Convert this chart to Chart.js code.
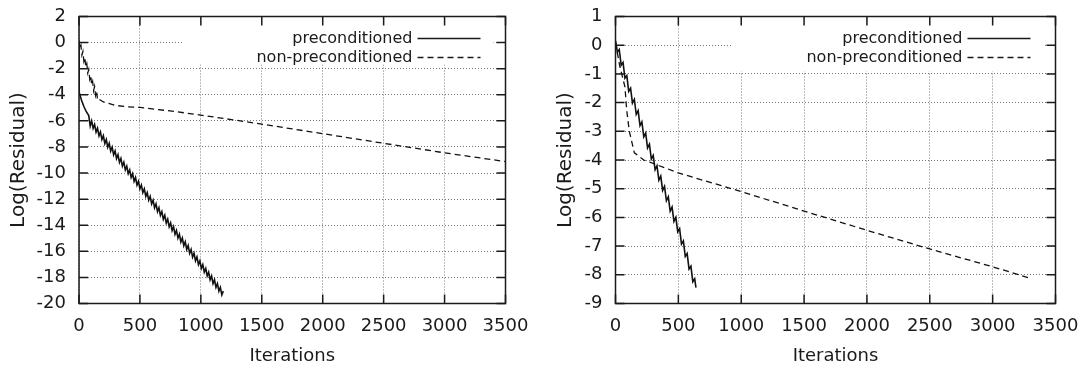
<!DOCTYPE html>
<html>
<head>
<meta charset="utf-8">
<script src="https://cdn.jsdelivr.net/npm/chart.js@4/dist/chart.umd.min.js"></script>
<style>
    html, body { margin:0; padding:0; background:#fff; }
    .panel { position:absolute; top:0; height:367px; }
    #leftPanel { left:0; width:540px; }
    #rightPanel { left:540px; width:541px; }
</style>
</head>
<body>
<div class="panel" id="leftPanel"><canvas id="leftChart"></canvas></div>
<div class="panel" id="rightPanel"><canvas id="rightChart"></canvas></div>
<script>
/* DATA  [iteration, log residual] */
const seriesNames = ["preconditioned", "non-preconditioned"];

const leftPrec = [
    [0,0.1],[1,-3.8],[20,-4.4],[40,-4.9],[60,-5.3],[80,-5.6],[92,-6.4],
    [104,-6.0],[116,-6.57],[128,-6.27],[140,-6.86],[152,-6.56],[164,-7.15],[176,-6.85],[188,-7.44],
    [200,-7.14],[212,-7.73],[224,-7.43],[236,-8.02],[248,-7.72],[260,-8.31],[272,-8.01],[284,-8.60],
    [296,-8.30],[308,-8.89],[320,-8.59],[332,-9.18],[344,-8.88],[356,-9.47],[368,-9.17],[380,-9.76],
    [392,-9.47],[404,-10.05],[416,-9.76],[428,-10.34],[440,-10.05],[452,-10.63],[464,-10.34],[476,-10.92],
    [488,-10.63],[500,-11.21],[512,-10.92],[524,-11.50],[536,-11.21],[548,-11.79],[560,-11.50],[572,-12.08],
    [584,-11.79],[596,-12.37],[608,-12.08],[620,-12.66],[632,-12.37],[644,-12.95],[656,-12.66],[668,-13.24],
    [680,-12.95],[692,-13.54],[704,-13.24],[716,-13.83],[728,-13.53],[740,-14.12],[752,-13.82],[764,-14.41],
    [776,-14.11],[788,-14.70],[800,-14.40],[812,-14.99],[824,-14.69],[836,-15.28],[848,-14.98],[860,-15.57],
    [872,-15.27],[884,-15.86],[896,-15.56],[908,-16.15],[920,-15.85],[932,-16.44],[944,-16.14],[956,-16.73],
    [968,-16.43],[980,-17.02],[992,-16.73],[1004,-17.31],[1016,-17.02],[1028,-17.60],[1040,-17.31],[1052,-17.89],
    [1064,-17.60],[1076,-18.18],[1088,-17.89],[1100,-18.47],[1112,-18.18],[1124,-18.76],[1136,-18.47],[1148,-19.05],
    [1160,-18.76],[1172,-19.34],[1184,-19.05]
];

const leftNonPrec = [
    [0,0.15],[8,-0.48],[16,-0.22],[24,-0.95],[32,-0.68],[40,-1.42],[48,-1.15],[56,-1.89],
    [64,-1.62],[72,-2.34],[80,-2.07],[88,-2.80],[96,-2.52],[104,-3.25],[112,-2.98],[120,-3.69],
    [128,-3.36],[136,-4.04],[144,-3.71],[152,-4.39],[160,-4.31],
    [200,-4.55],[250,-4.68],[300,-4.82],[400,-4.92],[500,-4.97],[600,-5.08],[800,-5.3],
    [1000,-5.56],[1250,-5.9],[1500,-6.25],[2000,-6.98],[2500,-7.72],[3000,-8.45],[3500,-9.12]
];

const rightPrec = [
    [0,0.15],[15,-0.24],[30,-0.15],[45,-0.70],[60,-0.60],[75,-1.15],[90,-1.06],[105,-1.61],
    [120,-1.50],[135,-2.02],[150,-1.89],[165,-2.41],[180,-2.28],[195,-2.80],[210,-2.67],[225,-3.19],
    [240,-3.06],[255,-3.58],[270,-3.45],[285,-3.97],[300,-3.84],[315,-4.34],[330,-4.20],[345,-4.70],
    [360,-4.56],[375,-5.06],[390,-4.92],[405,-5.42],[420,-5.28],[435,-5.78],[450,-5.64],[465,-6.14],
    [480,-6.00],[495,-6.50],[510,-6.39],[525,-6.93],[540,-6.82],[555,-7.36],[570,-7.26],[585,-7.80],
    [600,-7.70],[615,-8.24],[630,-8.14],[640,-8.45]
];

const rightNonPrec = [
    [0,0.1],[35,-0.75],[75,-1.45],[90,-2.3],[110,-3.0],[150,-3.75],[225,-4.0],[300,-4.12],
    [500,-4.45],[1000,-5.1],[1500,-5.78],[2000,-6.45],[2500,-7.1],[3000,-7.72],[3300,-8.12]
];

const iterRange = [0, 3500, 500];
const leftLogRange = [-20, 2, 2];
const rightLogRange = [-9, 1, 1];

Chart.defaults.font.family = "'DejaVu Sans', sans-serif";
Chart.defaults.color = "#1a1a1a";

/* FRAME, INWARD TICKS, KEY */
const gnuFrame = {
    id: "gnuFrame",
    beforeDatasetsDraw(chart, args, o) {
        let a = chart.chartArea, ctx = chart.ctx;
        ctx.save();
        ctx.fillStyle = "#fff";
        ctx.fillRect(a.left + o.keyLeft, a.top + 1, a.right - 12 - a.left - o.keyLeft, o.keyBottom);
        ctx.restore();
    },
    afterDraw(chart, args, o) {
        let a = chart.chartArea, ctx = chart.ctx;
        let xs = chart.scales.x, ys = chart.scales.y;
        ctx.save();
        ctx.strokeStyle = "#1a1a1a";
        ctx.lineWidth = 1.5;
        ctx.beginPath();
        xs.ticks.forEach(t => {
            let px = xs.getPixelForValue(t.value);
            ctx.moveTo(px, a.bottom); ctx.lineTo(px, a.bottom - 9);
            ctx.moveTo(px, a.top); ctx.lineTo(px, a.top + 9);
        });
        ys.ticks.forEach(t => {
            let py = ys.getPixelForValue(t.value);
            ctx.moveTo(a.left, py); ctx.lineTo(a.left + 9, py);
            ctx.moveTo(a.right, py); ctx.lineTo(a.right - 9, py);
        });
        ctx.stroke();
        ctx.strokeRect(a.left, a.top, a.right - a.left, a.bottom - a.top);

        // key
        ctx.font = "16px 'DejaVu Sans'";
        ctx.fillStyle = "#1a1a1a";
        ctx.textAlign = "right";
        ctx.textBaseline = "middle";
        chart.data.datasets.forEach((ds, i) => {
            let y = a.top + o.keyRows[i];
            ctx.fillText(ds.label, a.right - 93, y);
            ctx.lineWidth = ds.borderWidth;
            ctx.setLineDash(ds.borderDash || []);
            ctx.beginPath();
            ctx.moveTo(a.right - 88, y);
            ctx.lineTo(a.right - 25, y);
            ctx.stroke();
        });
        ctx.restore();
    }
};

function toPoints(list) {
    return list.map(p => ({ x: p[0], y: p[1] }));
}

function makeChart(id, prec, nonPrec, yRange, cfg) {
    return new Chart(document.getElementById(id), {
        type: "scatter",
        data: {
            datasets: [
                { label: seriesNames[0], data: toPoints(prec), showLine: true, pointRadius: 0,
                  borderColor: "#111", borderWidth: 1.6, tension: 0 },
                { label: seriesNames[1], data: toPoints(nonPrec), showLine: true, pointRadius: 0,
                  borderColor: "#111", borderWidth: 1.3, borderDash: [6, 4], tension: 0 }
            ]
        },
        options: {
            responsive: true,
            maintainAspectRatio: false,
            animation: false,
            devicePixelRatio: 1,
            layout: { padding: { top: 16.5, right: cfg.padRight, bottom: 0, left: 0 } },
            plugins: {
                legend: { display: false },
                tooltip: { enabled: false },
                gnuFrame: { keyLeft: cfg.keyLeft, keyBottom: cfg.keyBottom, keyRows: [22, 41] }
            },
            scales: {
                x: {
                    type: "linear",
                    min: iterRange[0], max: iterRange[1],
                    ticks: { stepSize: iterRange[2], padding: 12, font: { size: 18 },
                             callback: v => String(v) },
                    grid: { color: "#777", lineWidth: 1, drawTicks: false },
                    border: { display: false, dash: [1, 2] },
                    title: { display: true, text: "Iterations", font: { size: 18 },
                             padding: { top: 0, bottom: 0 } },
                    afterFit(s) { s.height = 63.5; s.paddingLeft = 0; s.paddingRight = 0; }
                },
                y: {
                    min: yRange[0], max: yRange[1],
                    ticks: { stepSize: yRange[2], padding: 13, font: { size: 18 },
                             callback: v => String(v) },
                    grid: { color: "#777", lineWidth: 1, drawTicks: false },
                    border: { display: false, dash: [1, 2] },
                    title: { display: true, text: "Log(Residual)", font: { size: 20 },
                             padding: { top: cfg.titlePad, bottom: 0 } },
                    afterFit(s) { s.width = cfg.axisWidth; s.paddingTop = 0; s.paddingBottom = 0; }
                }
            }
        },
        plugins: [gnuFrame]
    });
}

makeChart("leftChart", leftPrec, leftNonPrec, leftLogRange,
    { padRight: 34.5, axisWidth: 79, titlePad: 7, keyLeft: 104, keyBottom: 47 });
makeChart("rightChart", rightPrec, rightNonPrec, rightLogRange,
    { padRight: 25.5, axisWidth: 75.5, titlePad: 14, keyLeft: 117, keyBottom: 54 });
</script>
</body>
</html>
